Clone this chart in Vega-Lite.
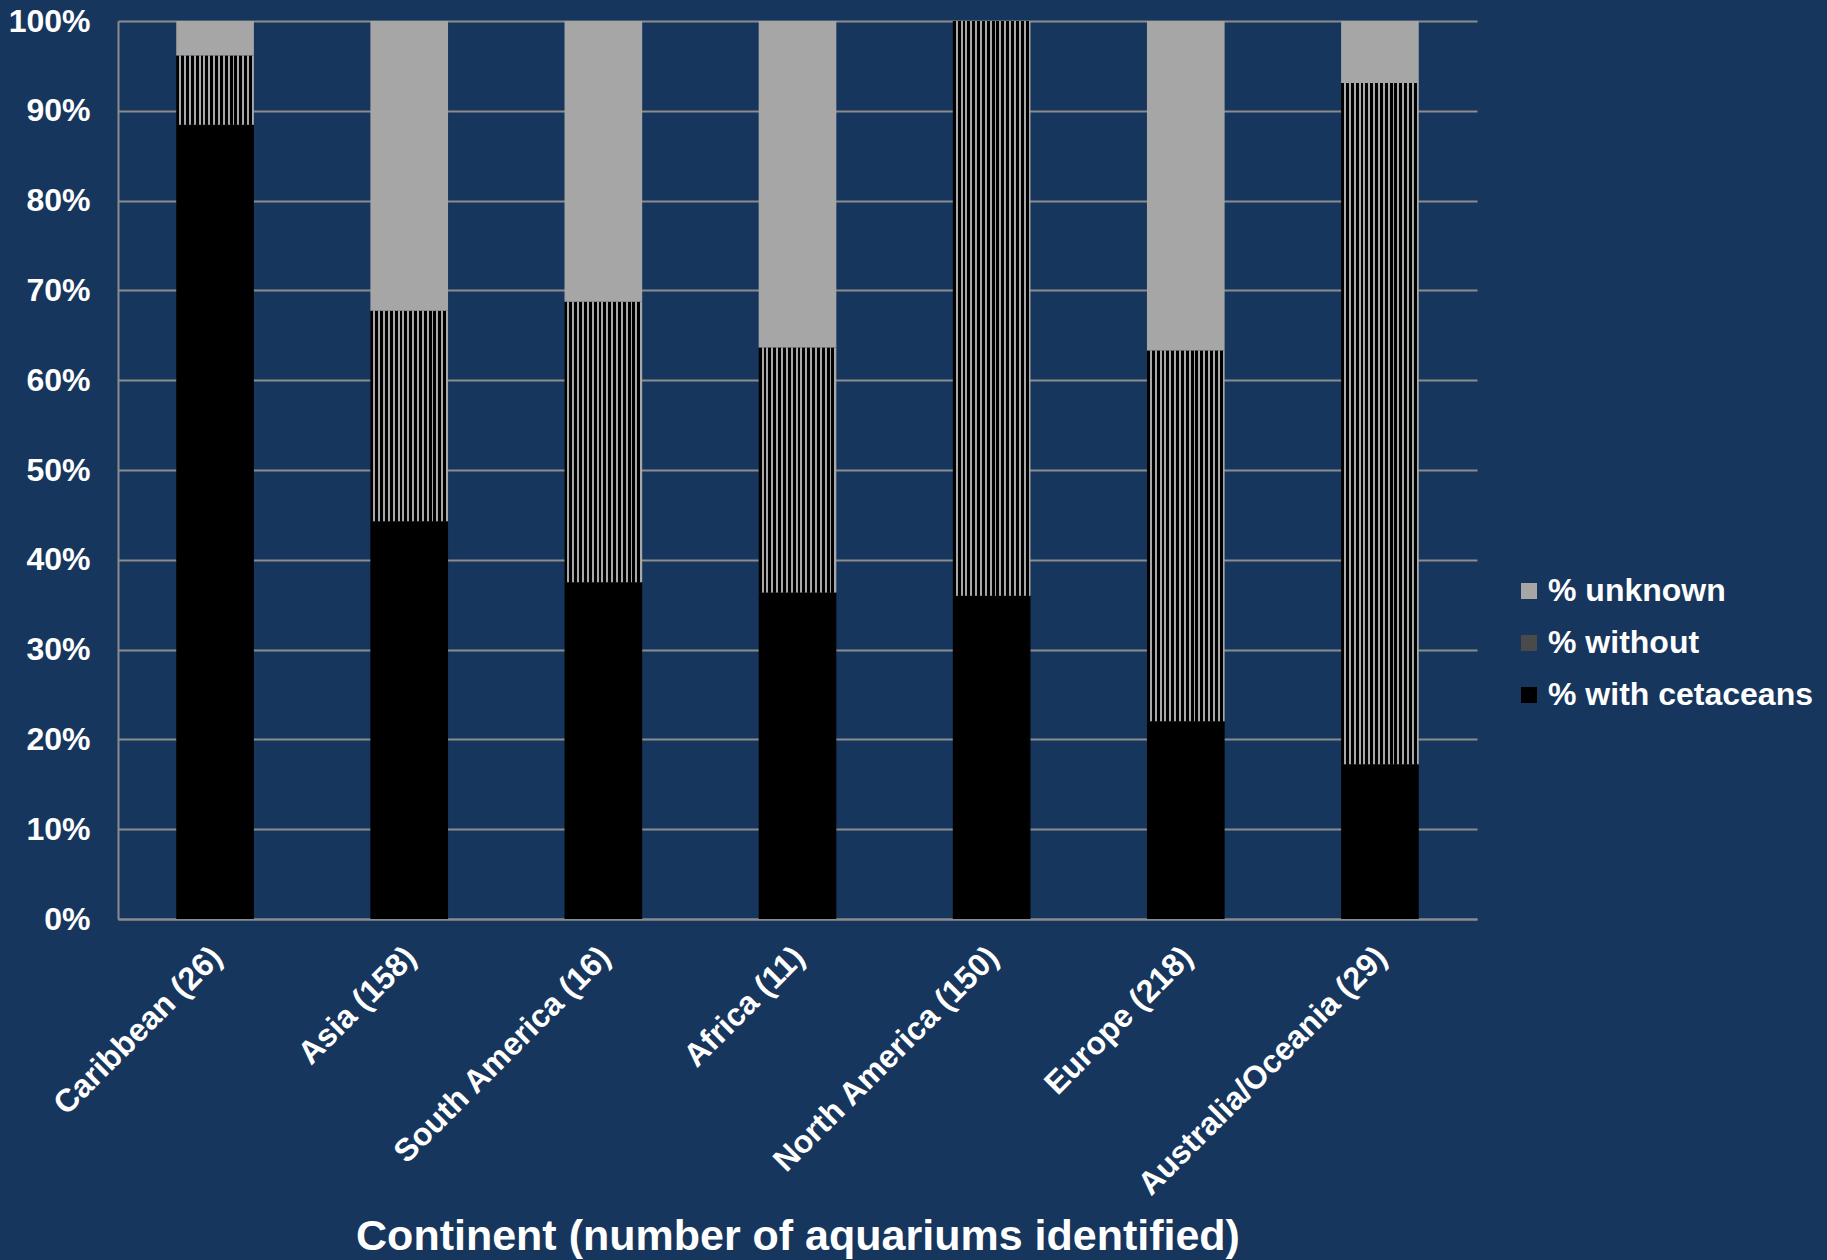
{
  "$schema": "https://vega.github.io/schema/vega-lite/v6.json",
  "width": 1359,
  "height": 898,
  "autosize": {"type": "none"},
  "padding": {"left": 118, "top": 21, "right": 350, "bottom": 341},
  "background": "#17365d",
  "data": {
    "values": [
      {"continent": "Caribbean (26)", "series": "% with cetaceans", "pct": 88.46},
      {"continent": "Caribbean (26)", "series": "% without", "pct": 7.69},
      {"continent": "Caribbean (26)", "series": "% unknown", "pct": 3.85},
      {"continent": "Asia (158)", "series": "% with cetaceans", "pct": 44.30},
      {"continent": "Asia (158)", "series": "% without", "pct": 23.42},
      {"continent": "Asia (158)", "series": "% unknown", "pct": 32.28},
      {"continent": "South America (16)", "series": "% with cetaceans", "pct": 37.5},
      {"continent": "South America (16)", "series": "% without", "pct": 31.25},
      {"continent": "South America (16)", "series": "% unknown", "pct": 31.25},
      {"continent": "Africa (11)", "series": "% with cetaceans", "pct": 36.36},
      {"continent": "Africa (11)", "series": "% without", "pct": 27.27},
      {"continent": "Africa (11)", "series": "% unknown", "pct": 36.37},
      {"continent": "North America (150)", "series": "% with cetaceans", "pct": 36.0},
      {"continent": "North America (150)", "series": "% without", "pct": 64.0},
      {"continent": "North America (150)", "series": "% unknown", "pct": 0},
      {"continent": "Europe (218)", "series": "% with cetaceans", "pct": 22.02},
      {"continent": "Europe (218)", "series": "% without", "pct": 41.28},
      {"continent": "Europe (218)", "series": "% unknown", "pct": 36.70},
      {"continent": "Australia/Oceania (29)", "series": "% with cetaceans", "pct": 17.24},
      {"continent": "Australia/Oceania (29)", "series": "% without", "pct": 75.86},
      {"continent": "Australia/Oceania (29)", "series": "% unknown", "pct": 6.90}
    ]
  },
  "transform": [
    {"calculate": "indexof(['% with cetaceans', '% without', '% unknown'], datum.series)", "as": "stack_order"}
  ],
  "mark": {"type": "bar"},
  "encoding": {
    "x": {
      "field": "continent",
      "type": "nominal",
      "sort": null,
      "scale": {"paddingInner": 0.6, "paddingOuter": 0.3},
      "title": "Continent (number of aquariums identified)",
      "axis": {
        "labelAngle": -45,
        "labelPadding": 22,
        "labelOffset": -9,
        "labelLimit": 500,
        "ticks": false,
        "titlePadding": 96
      }
    },
    "y": {
      "field": "pct",
      "type": "quantitative",
      "stack": "zero",
      "title": null,
      "scale": {"domain": [0, 100], "nice": false},
      "axis": {
        "values": [0, 10, 20, 30, 40, 50, 60, 70, 80, 90, 100],
        "labelExpr": "datum.value + '%'",
        "ticks": false,
        "tickSize": 0,
        "labelPadding": 28,
        "grid": true
      }
    },
    "order": {"field": "stack_order", "type": "quantitative", "sort": "ascending"},
    "fill": {
      "condition": {
        "test": "datum.series === '% without'",
        "value": {
          "gradient": "linear", "x1": 0, "y1": 0, "x2": 1, "y2": 0,
          "stops": [
            {"offset": 0, "color": "#000000"}, {"offset": 0.0375, "color": "#000000"}, {"offset": 0.0375, "color": "#a8a8a8"}, {"offset": 0.0625, "color": "#a8a8a8"},
            {"offset": 0.0625, "color": "#000000"}, {"offset": 0.1, "color": "#000000"}, {"offset": 0.1, "color": "#a8a8a8"}, {"offset": 0.125, "color": "#a8a8a8"},
            {"offset": 0.125, "color": "#000000"}, {"offset": 0.1625, "color": "#000000"}, {"offset": 0.1625, "color": "#a8a8a8"}, {"offset": 0.1875, "color": "#a8a8a8"},
            {"offset": 0.1875, "color": "#000000"}, {"offset": 0.225, "color": "#000000"}, {"offset": 0.225, "color": "#a8a8a8"}, {"offset": 0.25, "color": "#a8a8a8"},
            {"offset": 0.25, "color": "#000000"}, {"offset": 0.2875, "color": "#000000"}, {"offset": 0.2875, "color": "#a8a8a8"}, {"offset": 0.3125, "color": "#a8a8a8"},
            {"offset": 0.3125, "color": "#000000"}, {"offset": 0.35, "color": "#000000"}, {"offset": 0.35, "color": "#a8a8a8"}, {"offset": 0.375, "color": "#a8a8a8"},
            {"offset": 0.375, "color": "#000000"}, {"offset": 0.4125, "color": "#000000"}, {"offset": 0.4125, "color": "#a8a8a8"}, {"offset": 0.4375, "color": "#a8a8a8"},
            {"offset": 0.4375, "color": "#000000"}, {"offset": 0.475, "color": "#000000"}, {"offset": 0.475, "color": "#a8a8a8"}, {"offset": 0.5, "color": "#a8a8a8"},
            {"offset": 0.5, "color": "#000000"}, {"offset": 0.5375, "color": "#000000"}, {"offset": 0.5375, "color": "#a8a8a8"}, {"offset": 0.5625, "color": "#a8a8a8"},
            {"offset": 0.5625, "color": "#000000"}, {"offset": 0.6, "color": "#000000"}, {"offset": 0.6, "color": "#a8a8a8"}, {"offset": 0.625, "color": "#a8a8a8"},
            {"offset": 0.625, "color": "#000000"}, {"offset": 0.6625, "color": "#000000"}, {"offset": 0.6625, "color": "#a8a8a8"}, {"offset": 0.6875, "color": "#a8a8a8"},
            {"offset": 0.6875, "color": "#000000"}, {"offset": 0.725, "color": "#000000"}, {"offset": 0.725, "color": "#a8a8a8"}, {"offset": 0.75, "color": "#a8a8a8"},
            {"offset": 0.75, "color": "#000000"}, {"offset": 0.7875, "color": "#000000"}, {"offset": 0.7875, "color": "#a8a8a8"}, {"offset": 0.8125, "color": "#a8a8a8"},
            {"offset": 0.8125, "color": "#000000"}, {"offset": 0.85, "color": "#000000"}, {"offset": 0.85, "color": "#a8a8a8"}, {"offset": 0.875, "color": "#a8a8a8"},
            {"offset": 0.875, "color": "#000000"}, {"offset": 0.9125, "color": "#000000"}, {"offset": 0.9125, "color": "#a8a8a8"}, {"offset": 0.9375, "color": "#a8a8a8"},
            {"offset": 0.9375, "color": "#000000"}, {"offset": 0.975, "color": "#000000"}, {"offset": 0.975, "color": "#a8a8a8"}, {"offset": 1, "color": "#a8a8a8"}
          ]
        }
      },
      "field": "series",
      "type": "nominal",
      "scale": {
        "domain": ["% unknown", "% without", "% with cetaceans"],
        "range": ["#a6a6a6", "#4a4a4a", "#000000"]
      },
      "legend": {
        "title": null,
        "orient": "none",
        "legendX": 1395,
        "legendY": 554,
        "symbolType": "square",
        "symbolSize": 256,
        "symbolStrokeWidth": 0,
        "labelOffset": 3,
        "rowPadding": 20,
        "encoding": {
          "symbols": {
            "fill": {
              "condition": [
                {
                  "test": "datum.value === '% without'",
                  "value": {
                    "gradient": "linear", "x1": 0, "y1": 1, "x2": 1, "y2": 0,
                    "stops": [
                      {"offset": 0, "color": "#000000"}, {"offset": 0.12, "color": "#000000"}, {"offset": 0.12, "color": "#a8a8a8"}, {"offset": 0.2, "color": "#a8a8a8"},
                      {"offset": 0.2, "color": "#000000"}, {"offset": 0.32, "color": "#000000"}, {"offset": 0.32, "color": "#a8a8a8"}, {"offset": 0.4, "color": "#a8a8a8"},
                      {"offset": 0.4, "color": "#000000"}, {"offset": 0.52, "color": "#000000"}, {"offset": 0.52, "color": "#a8a8a8"}, {"offset": 0.6, "color": "#a8a8a8"},
                      {"offset": 0.6, "color": "#000000"}, {"offset": 0.72, "color": "#000000"}, {"offset": 0.72, "color": "#a8a8a8"}, {"offset": 0.8, "color": "#a8a8a8"},
                      {"offset": 0.8, "color": "#000000"}, {"offset": 0.92, "color": "#000000"}, {"offset": 0.92, "color": "#a8a8a8"}, {"offset": 1, "color": "#a8a8a8"}
                    ]
                  }
                },
                {"test": "datum.value === '% unknown'", "value": "#a6a6a6"}
              ],
              "value": "#000000"
            }
          }
        }
      }
    }
  },
  "config": {
    "view": {"stroke": null},
    "font": "Liberation Sans",
    "axis": {
      "labelColor": "#ffffff",
      "labelFont": "Liberation Sans",
      "labelFontWeight": "bold",
      "labelFontSize": 32,
      "titleColor": "#ffffff",
      "titleFont": "Liberation Sans",
      "titleFontWeight": "bold",
      "titleFontSize": 43,
      "domainColor": "#8c8c8c",
      "domainWidth": 2,
      "gridColor": "#8c8c8c",
      "gridWidth": 2
    },
    "legend": {
      "labelColor": "#ffffff",
      "labelFont": "Liberation Sans",
      "labelFontWeight": "bold",
      "labelFontSize": 32,
      "labelLimit": 400
    }
  }
}
